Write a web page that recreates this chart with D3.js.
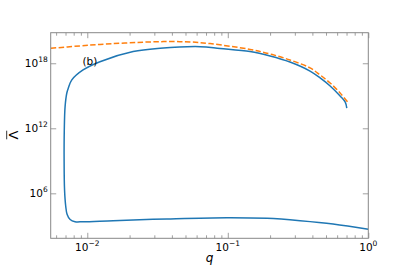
<html>
<head>
    <script src="https://d3js.org/d3.v7.min.js"></script>
    <style>
        body { margin: 0; background: #fff; }
        text { font-family: "DejaVu Sans", sans-serif; }
    </style>
</head>
<body>
    <svg id="s" width="409" height="273"></svg>
    <script>
        // blue curve (q, Lambda-bar), traced from bottom right, round the loop, to the upper tip
        const qBlue = [1.0, 0.561, 0.327, 0.19, 0.0984, 0.0368, 0.0153, 0.00933, 0.00818, 0.00755,
            0.00718, 0.00702, 0.00689, 0.00684, 0.00686, 0.00695, 0.00715, 0.00733, 0.00776, 0.00933,
            0.0123, 0.0212, 0.033, 0.0636, 0.0881, 0.144, 0.2, 0.277, 0.385, 0.454, 0.535, 0.63, 0.684, 0.703]
        const lamBlue = [4.8e2, 1.5e3, 3.0e3, 4.9e3, 5.6e3, 4.3e3, 3.0e3, 2.4e3, 2.4e3, 3.8e3,
            1.2e4, 6.8e4, 2.0e6, 1.2e9, 6.9e11, 1.0e14, 1.8e15, 5.2e15, 2.9e16, 2.4e17,
            1.4e18, 1.2e19, 2.4e19, 3.4e19, 2.3e19, 1.2e19, 4.7e18, 1.3e18, 1.9e17, 4.4e16, 7.9e15, 9.5e14, 2.7e14, 7.4e13]

        // orange dashed curve
        const qOrange = [0.0055, 0.00889, 0.0123, 0.028, 0.0388, 0.054, 0.0748, 0.144, 0.2, 0.277,
            0.385, 0.454, 0.535, 0.63, 0.721]
        const lamOrange = [2.4e19, 4.0e19, 5.5e19, 9.3e19, 1.0e20, 9.3e19, 6.5e19, 1.9e19, 7.2e18, 2.0e18,
            3.7e17, 8.3e16, 1.5e16, 1.8e15, 2.2e14]

        const xTicks = [1e-2, 1e-1, 1e0]
        const xTickExp = ["\u22122", "\u22121", "0"]
        const yTicks = [1e6, 1e12, 1e18]
        const yTickExp = ["6", "12", "18"]

        const L = 50.7, R = 368.3, T = 32.7, B = 238.3
        const svg = d3.select("#s")

        const x = d3.scaleLog().domain([0.00549, 1]).range([L, R])
        const y = d3.scaleLog().domain([Math.pow(10, 1.85), Math.pow(10, 20.82)]).range([B, T])

        // minor ticks at 2..9 of each decade
        const minor = []
        for (let e = -3; e <= 0; e++) for (let m = 2; m <= 9; m++) {
            const v = m * Math.pow(10, e)
            if (v > 0.00549 && v < 1) minor.push(v)
        }

        svg.append("defs").append("clipPath").attr("id", "clip")
            .append("rect").attr("x", L).attr("y", T).attr("width", R - L).attr("height", B - T)

        const line = d3.line()
            .x(d => x(d[0]))
            .y(d => y(d[1]))
            .curve(d3.curveCatmullRom.alpha(0.5))

        const plot = svg.append("g").attr("clip-path", "url(#clip)")
        plot.append("path")
            .datum(qBlue.map((q, i) => [q, lamBlue[i]]))
            .attr("d", line)
            .attr("fill", "none")
            .attr("stroke", "#1f77b4")
            .attr("stroke-width", 1.5)
        plot.append("path")
            .datum(qOrange.map((q, i) => [q, lamOrange[i]]))
            .attr("d", line)
            .attr("fill", "none")
            .attr("stroke", "#ff7f0e")
            .attr("stroke-width", 1.5)
            .attr("stroke-dasharray", "5.5,2.4")

        // axes, ticks pointing inward on all four sides
        function styleAxis(g) {
            g.select(".domain").remove()
            g.selectAll("line").attr("stroke", "#888").attr("stroke-width", 0.8)
            g.selectAll("text").remove()
        }
        svg.append("g").attr("transform", `translate(0,${B})`)
            .call(d3.axisBottom(x).tickValues(xTicks).tickSize(-5.5)).call(styleAxis)
        svg.append("g").attr("transform", `translate(0,${B})`)
            .call(d3.axisBottom(x).tickValues(minor).tickSize(-3)).call(styleAxis)
        svg.append("g").attr("transform", `translate(0,${T})`)
            .call(d3.axisTop(x).tickValues(xTicks).tickSize(-5.5)).call(styleAxis)
        svg.append("g").attr("transform", `translate(0,${T})`)
            .call(d3.axisTop(x).tickValues(minor).tickSize(-3)).call(styleAxis)
        svg.append("g").attr("transform", `translate(${L},0)`)
            .call(d3.axisLeft(y).tickValues(yTicks).tickSize(-5.5)).call(styleAxis)
        svg.append("g").attr("transform", `translate(${R},0)`)
            .call(d3.axisRight(y).tickValues(yTicks).tickSize(-5.5)).call(styleAxis)

        // frame
        svg.append("rect")
            .attr("x", L).attr("y", T).attr("width", R - L).attr("height", B - T)
            .attr("fill", "none").attr("stroke", "#888").attr("stroke-width", 1)

        // tick labels
        xTicks.forEach((v, i) => {
            const t = svg.append("text")
                .attr("x", x(v)).attr("y", B + 12.5)
                .attr("text-anchor", "middle")
                .attr("font-size", "10.5px")
            t.append("tspan").text("10")
            t.append("tspan").attr("dy", -4.5).attr("font-size", "7.5px").text(xTickExp[i])
        })
        yTicks.forEach((v, i) => {
            const t = svg.append("text")
                .attr("x", L - 3).attr("y", y(v) + 3.5)
                .attr("text-anchor", "end")
                .attr("font-size", "10.5px")
            t.append("tspan").text("10")
            t.append("tspan").attr("dy", -4.5).attr("font-size", "7.5px").text(yTickExp[i])
        })

        // axis labels
        svg.append("text")
            .attr("x", (L + R) / 2).attr("y", 262)
            .attr("text-anchor", "middle")
            .attr("font-size", "12px")
            .attr("font-style", "italic")
            .text("q")

        // y label: Lambda with a bar, rotated
        const yl = svg.append("g").attr("transform", "translate(18,135) rotate(-90)")
        yl.append("text")
            .attr("text-anchor", "middle")
            .attr("font-size", "13px")
            .text("\u039B")
        yl.append("line")
            .attr("x1", -4.3).attr("x2", 4.3)
            .attr("y1", -11.3).attr("y2", -11.3)
            .attr("stroke", "#000").attr("stroke-width", 0.8)

        svg.append("text")
            .attr("x", 82.5).attr("y", 64.5)
            .attr("font-size", "10.5px")
            .text("(b)")
    </script>
</body>
</html>
